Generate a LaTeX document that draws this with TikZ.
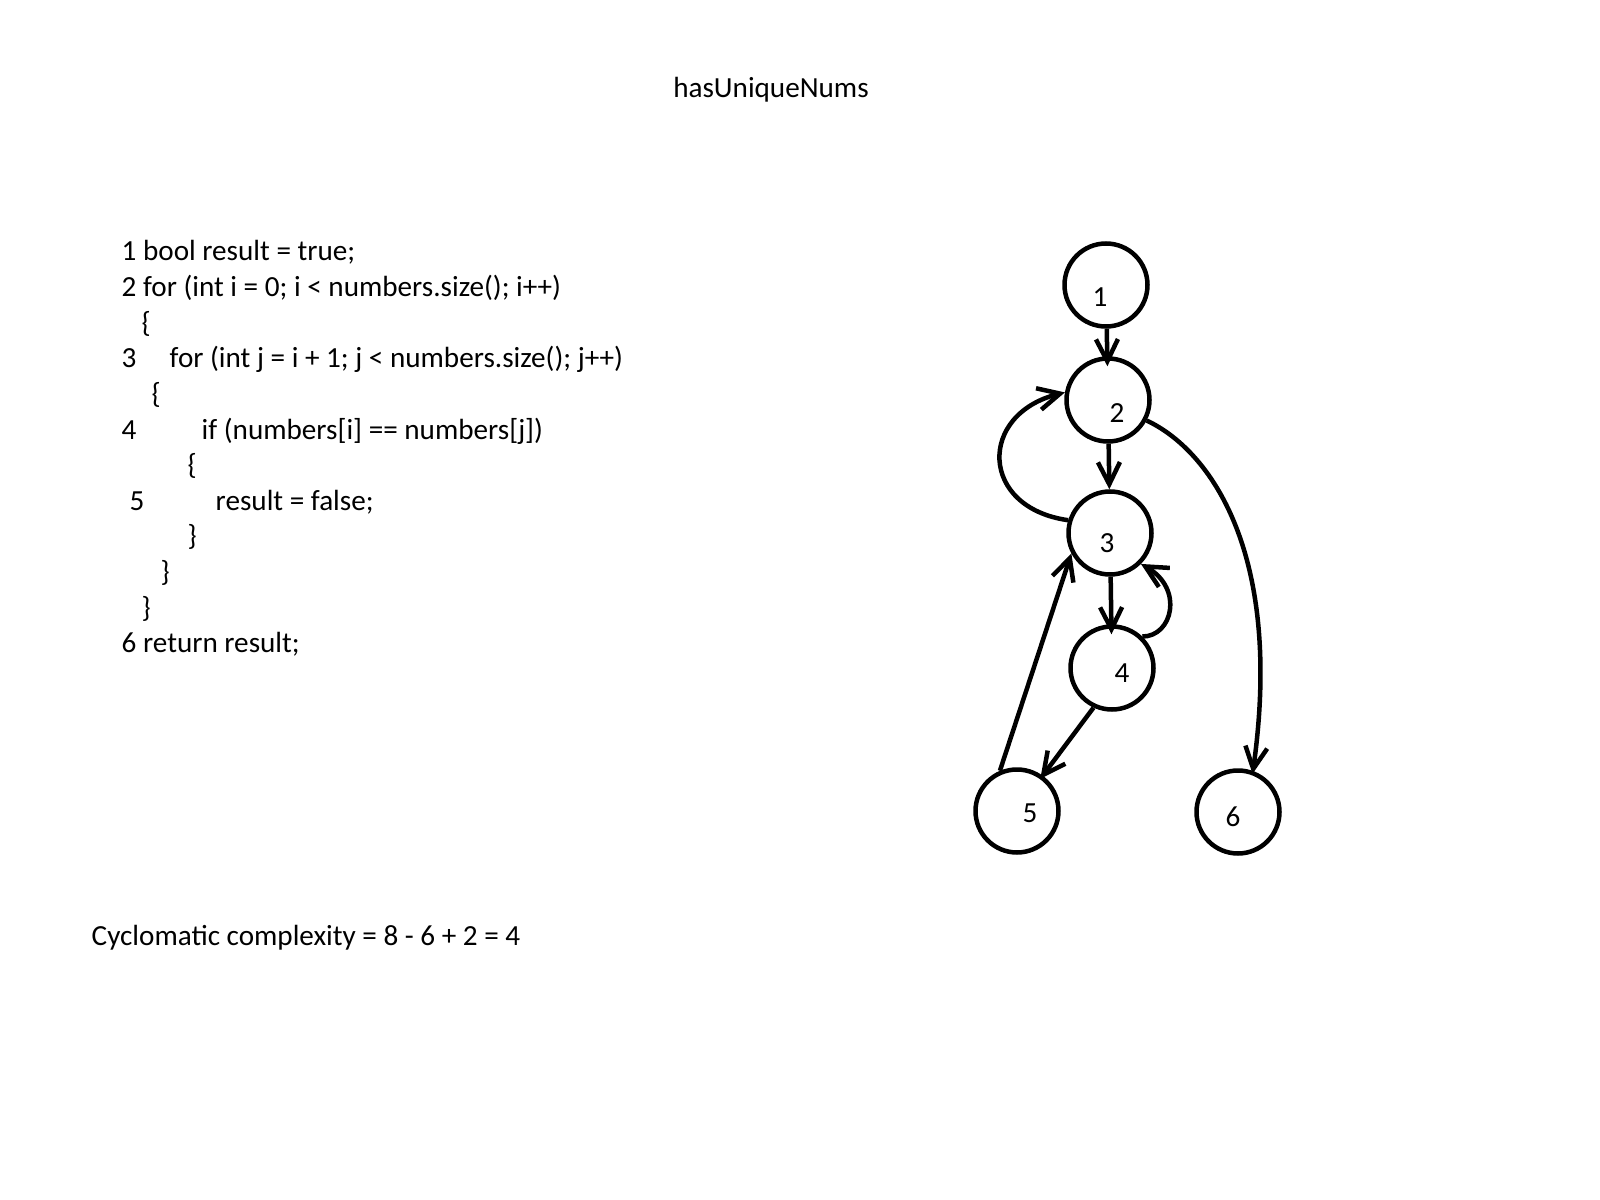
\documentclass[tikz,border=0pt]{standalone}
\usepackage{fontspec}
\setmainfont{Carlito}
\usetikzlibrary{arrows.meta}

\begin{document}
\begin{tikzpicture}[x=0.1mm,y=0.1mm,>={Straight Barb[length=2.2mm,width=2.2mm]},
  font=\fontsize{8.3pt}{10pt}\selectfont,
  vertex/.style={circle,draw,line width=0.45mm,minimum size=8.3mm,inner sep=0pt},
  code/.style={anchor=base west,inner sep=0pt},
  edge/.style={->,line width=0.45mm}]
\useasboundingbox (0,0) rectangle (1600,-1200);

%title
\node[anchor=base,inner sep=0pt] (title) at (771,-98) {hasUniqueNums};

%code listing
\node[code] (l1) at (121,-261) {1 bool result = true;};
\node[code] (l2) at (121,-296.6) {2 for (int i = 0; i < numbers.size(); i++)};
\node[code] (b1) at (141,-332.2) {\{};
\node[code] (l3) at (121,-367.8) {3};
\node[code] (c3) at (169,-367.8) {for (int j = i + 1; j < numbers.size(); j++)};
\node[code] (b2) at (151,-403.4) {\{};
\node[code] (l4) at (121,-439) {4};
\node[code] (c4) at (201,-439) {if (numbers[i] == numbers[j])};
\node[code] (b3) at (187,-474.6) {\{};
\node[code] (l5) at (129,-510.2) {5};
\node[code] (c5) at (215,-510.2) {result = false;};
\node[code] (b4) at (187,-545.8) {\}};
\node[code] (b5) at (160,-581.4) {\}};
\node[code] (b6) at (141,-617) {\}};
\node[code] (l6) at (121,-652.6) {6 return result;};

%complexity
\node[code] (cc) at (91,-945) {Cyclomatic complexity = 8 - 6 + 2 = 4};

%flow graph
\node[vertex,label={[name=t1,xshift=-0.6mm,yshift=-1.2mm]center:1}] (n1) at (1106,-285) {};
\node[vertex,label={[name=t2,xshift=0.9mm,yshift=-1.3mm]center:2}] (n2) at (1108,-400) {};
\node[vertex,label={[name=t3,xshift=-0.3mm,yshift=-1.0mm]center:3}] (n3) at (1110,-533) {};
\node[vertex,label={[name=t4,xshift=1.0mm,yshift=-0.5mm]center:4}] (n4) at (1112,-668) {};
\node[vertex,label={[name=t5,xshift=1.3mm,yshift=-0.2mm]center:5}] (n5) at (1017,-811) {};
\node[vertex,label={[name=t6,xshift=-0.5mm,yshift=-0.5mm]center:6}] (n6) at (1238,-812) {};

\draw[edge,shorten >=-1mm] (n1) -- (n2);
\draw[edge] (n2) -- (n3);
\draw[edge,shorten >=-1mm] (n3) -- (n4);
\draw[edge,shorten >=-0.4mm] (n4.-115) -- (n5.54);
\draw[edge] (n5.113) -- (n3.-152);

%loops
\draw[edge] (n3.163) to[out=172,in=194,distance=9mm] (n2.170);
\draw[edge] (n4.46) to[out=0,in=-30,out distance=3mm,in distance=5mm] (n3.-45);
\draw[edge,shorten >=-0.3mm] (n2.-28) to[out=-25,in=82,out distance=7mm,in distance=22mm] (n6.70);

\end{tikzpicture}
\end{document}
